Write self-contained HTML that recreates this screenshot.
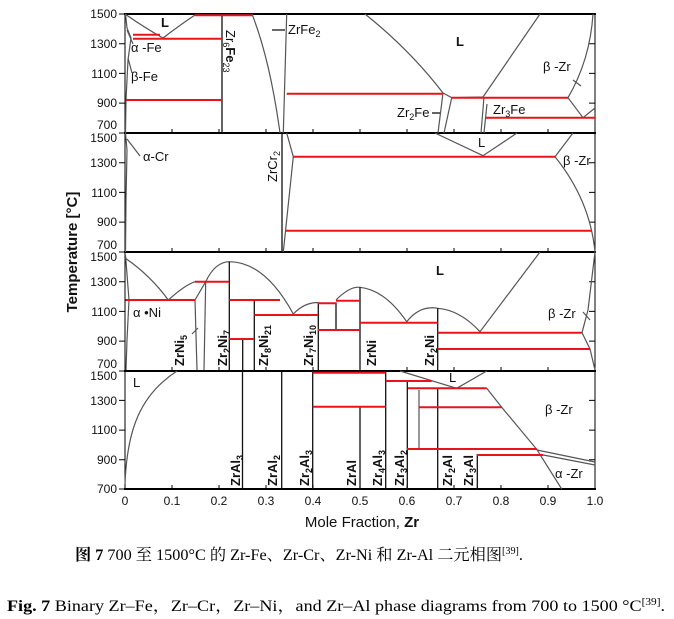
<!DOCTYPE html>
<html><head><meta charset="utf-8"><style>
html,body{margin:0;padding:0;background:#fff;}
svg{display:block}
text{font-family:"Liberation Sans",Arial,sans-serif;fill:#111}
.g{fill:none;stroke:#555;stroke-width:1.2}
.k{fill:none;stroke:#111;stroke-width:1.3}
.r{fill:none;stroke:#e8141a;stroke-width:2}
.t{font-size:12px}
.l{font-size:13px}
.cap{font-family:"Liberation Serif","Noto Serif CJK SC",serif;font-size:16px;fill:#000}
</style></head><body>
<svg width="674" height="619" viewBox="0 0 674 619" xmlns="http://www.w3.org/2000/svg">
<g stroke="#000" fill="none">
<line x1="125" y1="14" x2="125" y2="489" stroke-width="1"/>
<line x1="595" y1="14" x2="595" y2="489" stroke-width="1"/>
<line x1="124" y1="14" x2="596" y2="14" stroke-width="2"/>
<line x1="124" y1="133" x2="596" y2="133" stroke-width="2"/>
<line x1="124" y1="252" x2="596" y2="252" stroke-width="2"/>
<line x1="124" y1="371" x2="596" y2="371" stroke-width="2"/>
<line x1="124" y1="489" x2="596" y2="489" stroke-width="2"/>
</g>
<g stroke="#000" stroke-width="1">
<path d="M119,14H125M119,43.7H125M119,73.4H125M119,103.1H125M119,133H125M119,162.7H125M119,192.4H125M119,222.1H125M119,252H125M119,281.7H125M119,311.4H125M119,341.1H125M119,371H125M119,400.4H125M119,430.1H125M119,459.8H125M119,489H125"/>
<path d="M589,43.7H595M589,73.4H595M589,103.1H595M589,162.7H595M589,192.4H595M589,222.1H595M589,281.7H595M589,311.4H595M589,341.1H595M589,400.4H595M589,430.1H595M589,459.8H595"/>
<path d="M172,133v-4M219,133v-4M266,133v-4M313,133v-4M360,133v-4M407,133v-4M454,133v-4M501,133v-4M548,133v-4
M172,252v-4M219,252v-4M266,252v-4M313,252v-4M360,252v-4M407,252v-4M454,252v-4M501,252v-4M548,252v-4
M172,371v-4M219,371v-4M266,371v-4M313,371v-4M360,371v-4M407,371v-4M454,371v-4M501,371v-4M548,371v-4
M172,489v-4M219,489v-4M266,489v-4M313,489v-4M360,489v-4M407,489v-4M454,489v-4M501,489v-4M548,489v-4"/>
</g>
<g class="t" text-anchor="end">
<text x="117" y="18">1500</text><text x="117" y="48">1300</text><text x="117" y="78">1100</text><text x="117" y="107">900</text><text x="117" y="129">700</text>
<text x="117" y="142">1500</text><text x="117" y="167">1300</text><text x="117" y="197">1100</text><text x="117" y="226">900</text><text x="117" y="249">700</text>
<text x="117" y="261">1500</text><text x="117" y="286">1300</text><text x="117" y="316">1100</text><text x="117" y="345">900</text><text x="117" y="368">700</text>
<text x="117" y="380">1500</text><text x="117" y="405">1300</text><text x="117" y="434">1100</text><text x="117" y="464">900</text><text x="117" y="493">700</text>
</g>
<g class="t" text-anchor="middle">
<text x="125" y="505">0</text><text x="172" y="505">0.1</text><text x="219" y="505">0.2</text><text x="266" y="505">0.3</text><text x="313" y="505">0.4</text><text x="360" y="505">0.5</text><text x="407" y="505">0.6</text><text x="454" y="505">0.7</text><text x="501" y="505">0.8</text><text x="548" y="505">0.9</text><text x="595" y="505">1.0</text>
</g>
<text x="362" y="527" text-anchor="middle" style="font-size:15px">Mole Fraction, <tspan font-weight="bold">Zr</tspan></text>
<text transform="translate(77,252) rotate(-90)" text-anchor="middle" style="font-size:15px;font-weight:bold">Temperature [°C]</text>

<path class="g" d="M125.5,14L127,28L131,38L128,60L126,100L125.5,133M127,30L133,44M128,58L132,73"/>
<path class="g" d="M125,14Q145,28 163,38Q180,25 195,15"/>
<path class="g" d="M252,14Q270,60 280,133M286.7,14L283.3,133"/>
<path class="g" d="M365,14Q410,50 443,93M540,14L483,97M443,93L451.7,97.7L483,97M443,93L438,133M451.7,97.7L444,133M484,97L481,133M487,104L484,133"/>
<path class="g" d="M593,14Q590,60 568,97.7L583,117.7M583,117.7L595,108M573,80L581,86"/>
<path class="k" d="M222,15V133M272,30H285"/>
<path class="k" d="M432,113H440"/>
<path class="r" d="M133,34.7H160M133,38.7H222M126,100H222M195,15.3H252M286.7,93.7H443M451.7,97.7H568M485,117.7H595"/>
<text class="l" x="161" y="27" font-weight="bold">L</text>
<text class="l" x="131" y="52">α -Fe</text>
<text class="l" x="131" y="81">β-Fe</text>
<text class="l" transform="translate(226,30) rotate(90)">Zr<tspan font-size="9" dy="3">6</tspan><tspan dy="-3" font-weight="bold">Fe</tspan><tspan font-size="9" dy="3">23</tspan></text>
<text class="l" x="288" y="34">ZrFe<tspan font-size="9" dy="3">2</tspan></text>
<text class="l" x="456" y="46" font-weight="bold">L</text>
<text class="l" x="543" y="71">β -Zr</text>
<text class="l" x="397" y="117">Zr<tspan font-size="9" dy="3">2</tspan><tspan dy="-3">Fe</tspan></text>
<text class="l" x="493" y="114">Zr<tspan font-size="9" dy="3">3</tspan><tspan dy="-3">Fe</tspan></text>

<path class="g" d="M125.5,133L127,150L126,200L125.5,252M127,139L140,156"/>
<path class="k" d="M282,133V252"/>
<path class="g" d="M286.7,133L293.3,156.7L283.3,252"/>
<path class="g" d="M435,133L483,155.7L517,133M573,133L555,156.7Q590,200 595,252"/>
<path class="r" d="M293,156.7H555M286,230.7H592"/>
<text class="l" x="143" y="161">α-Cr</text>
<text class="l" transform="translate(277,182) rotate(-90)">ZrCr<tspan font-size="9" dy="3">2</tspan></text>
<text class="l" x="478" y="147">L</text>
<text class="l" x="563" y="165">β -Zr</text>

<path class="g" d="M125,258Q150,275 168.3,300Q185,285 195,281.7M125.5,255L129,300L127,340L126,370"/>
<path class="g" d="M195,300L197,370M205.7,281.7L204,370M195,300L205.7,281.7M192,334L198,328"/>
<path class="g" d="M205.7,281.7Q215,262 229.3,261.7Q265,262 293.3,314Q305,302 318.3,302.7"/>
<path class="g" d="M336,300Q350,286 360,287.3Q385,290 406.7,321.7Q420,305 437.7,308.3Q460,310 480,331.7L540,252"/>
<path class="g" d="M595,252L588,310L582,332.7L590,349L595,370M583,312L590,320"/>
<path class="k" d="M229.3,261.7V370M254.3,300V370M242.7,339V370M318.3,302.7V370M336,303V330M360,287.3V370M437.7,308.3V370"/>
<path class="r" d="M125.5,300H195M195,281.7H229.3M229.3,300H280M229.3,339H254.3M254.3,315H318.3M318,303.3H336.7M336,300.7H360M318,330H360M360,322.7H437.7M437.7,332.7H581.7M437.7,349H590"/>
<text class="l" x="436" y="275" font-weight="bold">L</text>
<text class="l" x="133" y="317">α •Ni</text>
<text class="l" x="548" y="318">β -Zr</text>
<g class="l" font-weight="bold">
<text transform="translate(184,366) rotate(-90)">ZrNi<tspan font-size="9" dy="3">5</tspan></text>
<text transform="translate(227,366) rotate(-90)">Zr<tspan font-size="9" dy="3">2</tspan><tspan dy="-3">Ni</tspan><tspan font-size="9" dy="3">7</tspan></text>
<text transform="translate(268,366) rotate(-90)">Zr<tspan font-size="9" dy="3">8</tspan><tspan dy="-3">Ni</tspan><tspan font-size="9" dy="3">21</tspan></text>
<text transform="translate(313,366) rotate(-90)">Zr<tspan font-size="9" dy="3">7</tspan><tspan dy="-3">Ni</tspan><tspan font-size="9" dy="3">10</tspan></text>
<text transform="translate(376,366) rotate(-90)">ZrNi</text>
<text transform="translate(434,366) rotate(-90)">Zr<tspan font-size="9" dy="3">2</tspan><tspan dy="-3">Ni</tspan></text>
</g>

<path class="g" d="M125,484C127,430 140,395 177,371"/>
<path class="k" d="M242.5,371V489M281.7,371V489M312.7,371V489M385.7,371V489M360,406.7V489M407.3,381V489M437.7,388V489M477.3,454V489"/>
<path class="g" d="M419,390V450M400,371L456.7,388.3L486.7,371M486.7,388.3L501.7,407.3L536.7,449.3L561.7,489M543.3,455L595,465M537,450L595,462"/>
<path class="r" d="M312.7,372.7H385.7M312.7,406.7H385.7M385.7,381H431.7M408,388.3H486.7M419,407.3H501.7M407,449H536.7M477,455H543.3"/>
<text class="l" x="133" y="387">L</text>
<text class="l" x="449" y="382">L</text>
<text class="l" x="545" y="414">β -Zr</text>
<text class="l" x="555" y="478">α -Zr</text>
<g class="l" font-weight="bold">
<text transform="translate(240,486) rotate(-90)">ZrAl<tspan font-size="9" dy="3">3</tspan></text>
<text transform="translate(277,486) rotate(-90)">ZrAl<tspan font-size="9" dy="3">2</tspan></text>
<text transform="translate(309,486) rotate(-90)">Zr<tspan font-size="9" dy="3">2</tspan><tspan dy="-3">Al</tspan><tspan font-size="9" dy="3">3</tspan></text>
<text transform="translate(356,486) rotate(-90)">ZrAl</text>
<text transform="translate(382,486) rotate(-90)">Zr<tspan font-size="9" dy="3">4</tspan><tspan dy="-3">Al</tspan><tspan font-size="9" dy="3">3</tspan></text>
<text transform="translate(404,486) rotate(-90)">Zr<tspan font-size="9" dy="3">3</tspan><tspan dy="-3">Al</tspan><tspan font-size="9" dy="3">2</tspan></text>
<text transform="translate(452,486) rotate(-90)">Zr<tspan font-size="9" dy="3">2</tspan><tspan dy="-3">Al</tspan></text>
<text transform="translate(473,486) rotate(-90)">Zr<tspan font-size="9" dy="3">3</tspan><tspan dy="-3">Al</tspan></text>
</g>

<text class="cap" x="75" y="560" textLength="448" lengthAdjust="spacingAndGlyphs"><tspan font-weight="bold">图 7</tspan> 700 至 1500°C 的 Zr-Fe、Zr-Cr、Zr-Ni 和 Zr-Al 二元相图<tspan font-size="10" dy="-6">[39]</tspan><tspan dy="6">.</tspan></text>
<text class="cap" x="7" y="611" textLength="658" lengthAdjust="spacingAndGlyphs"><tspan font-weight="bold">Fig. 7</tspan> Binary Zr–Fe，Zr–Cr，Zr–Ni，and Zr–Al phase diagrams from 700 to 1500 °C<tspan font-size="10" dy="-6">[39]</tspan><tspan dy="6">.</tspan></text>
</svg>
</body></html>
